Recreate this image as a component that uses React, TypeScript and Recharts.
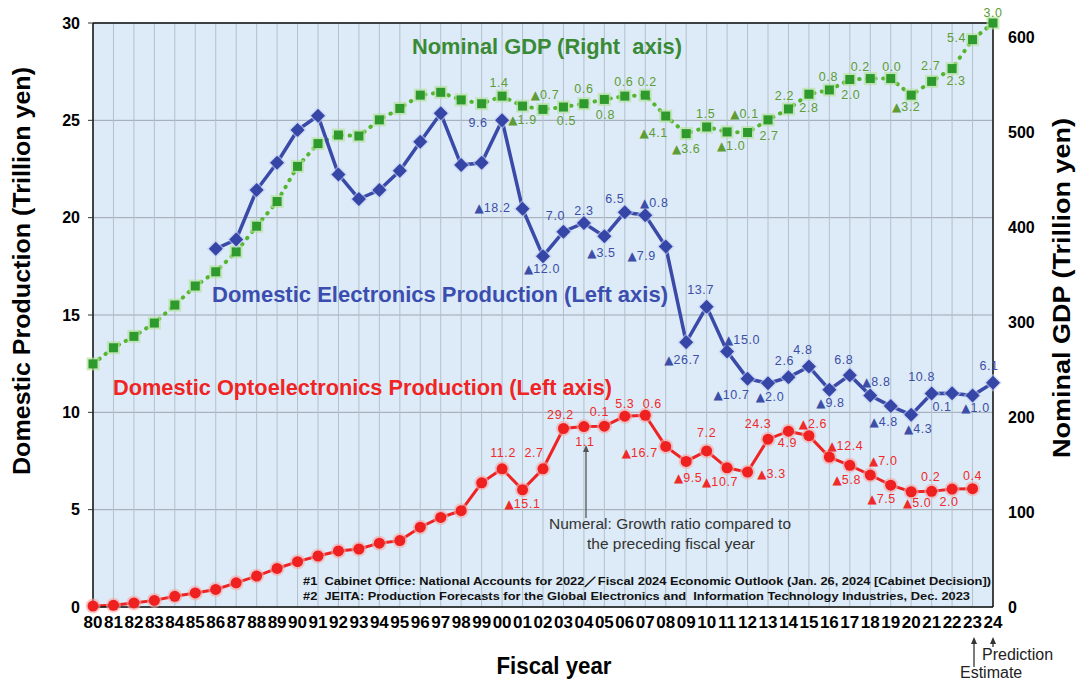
import { LineChart, Line, XAxis, YAxis, CartesianGrid, ReferenceLine } from "recharts";

const FONT = "'Liberation Sans', Arial, sans-serif";

const years = [
  "80", "81", "82", "83", "84", "85", "86", "87", "88", "89",
  "90", "91", "92", "93", "94", "95", "96", "97", "98", "99",
  "00", "01", "02", "03", "04", "05", "06", "07", "08", "09",
  "10", "11", "12", "13", "14", "15", "16", "17", "18", "19",
  "20", "21", "22", "23", "24",
];

// nominal GDP, trillion yen (right axis)
const gdpValues = [
  256, 273, 285, 299, 318, 338, 353, 374, 401, 427,
  464, 488, 497, 496, 513, 525, 539, 542, 534, 530,
  538, 527.5, 524, 526.5, 530, 534.5, 538, 539, 517, 498.5,
  505.5, 500.3, 499.7, 513, 524.5, 540, 544.5, 555.5, 556.5, 556.5,
  539, 553.5, 567, 597.5, 615,
];

// domestic electronics production, trillion yen (left axis)
const elecValues = [
  null, null, null, null, null, null, 18.4, 18.88, 21.42, 22.82,
  24.5, 25.23, 22.22, 20.96, 21.42, 22.41, 23.9, 25.36, 22.7, 22.82,
  25.01, 20.46, 18.02, 19.28, 19.73, 19.04, 20.28, 20.12, 18.52, 13.6,
  15.43, 13.13, 11.73, 11.49, 11.8, 12.35, 11.16, 11.91, 10.86, 10.32,
  9.87, 10.97, 10.98, 10.86, 11.52,
];

// domestic optoelectronics production, trillion yen (left axis)
const optoValues = [
  0.05, 0.09, 0.21, 0.34, 0.55, 0.72, 0.9, 1.24, 1.59, 1.98,
  2.33, 2.62, 2.88, 2.98, 3.28, 3.41, 4.1, 4.6, 4.95, 6.38,
  7.1, 6.02, 7.1, 9.17, 9.27, 9.29, 9.8, 9.85, 8.25, 7.48,
  8.02, 7.15, 6.93, 8.62, 9.03, 8.8, 7.7, 7.28, 6.78, 6.26,
  5.92, 5.94, 6.06, 6.08, null,
];

// growth vs. preceding fiscal year (%), from FY2000 on; ▲ = decrease
const gdpGrowth = [
  "1.4", "▲1.9", "▲0.7", "0.5", "0.6", "0.8", "0.6", "0.2", "▲4.1", "▲3.6",
  "1.5", "▲1.0", "▲0.1", "2.7", "2.2", "2.8", "0.8", "2.0", "0.2", "0.0",
  "▲3.2", "2.7", "2.3", "5.4", "3.0",
];
const elecGrowth = [
  "9.6", "▲18.2", "▲12.0", "7.0", "2.3", "▲3.5", "6.5", "▲0.8", "▲7.9", "▲26.7",
  "13.7", "▲15.0", "▲10.7", "▲2.0", "2.6", "4.8", "▲9.8", "6.8", "▲8.8", "▲4.8",
  "▲4.3", "10.8", "0.1", "▲1.0", "6.1",
];
const optoGrowth = [
  "11.2", "▲15.1", "2.7", "29.2", "1.1", "0.1", "5.3", "0.6", "▲16.7", "▲9.5",
  "7.2", "▲10.7", "▲3.3", "24.3", "4.9", "▲2.6", "▲12.4", "▲5.8", "▲7.0", "▲7.5",
  "▲5.0", "0.2", "2.0", "0.4",
];

const leftTicks = [0, 5, 10, 15, 20, 25, 30];
const rightTicks = [0, 100, 200, 300, 400, 500, 600];

// label placement relative to its marker [dx, dy], from FY2000 on
const gdpLabelPos = [
  [-3, -13], [0, 14], [2, -14], [3, 14], [0, -15], [1, 16], [-1, -14], [2, -13], [-12, 17], [0, 15],
  [-1, -13], [4, 14], [-3, -18], [1, 16], [-4, -13], [0, 14], [-1, -13], [1, 15], [-10, -12], [1, -12],
  [-5, 12], [-1, -15], [4, 12], [-16, -2], [0, -10],
];
const elecLabelPos = [
  [-24, 3], [-30, -1], [-1, 13], [-8, -16], [0, -12], [-3, 17], [-10, -13], [9, -12], [-24, 10], [-4, 18],
  [-6, -17], [15, -11], [-16, 16], [2, 14], [-4, -16], [-6, -17], [1, 13], [-6, -15], [6, -14], [-7, 16],
  [7, 14], [-10, -16], [-10, 14], [3, 12], [-4, -17],
];
const optoLabelPos = [
  [1, -16], [0, 14], [-9, -16], [-3, -13], [1, 15], [-5, -14], [0, -12], [7, -11], [-26, 7], [2, 17],
  [0, -18], [-7, 14], [24, 2], [-10, -15], [-1, 12], [4, -12], [16, -11], [-3, 15], [13, -14], [-9, 14],
  [6, 11], [-1, -14], [-3, 13], [0, -13],
];

const GROWTH_START = years.indexOf("00");

const rows = years.map((year, i) => ({
  year,
  gdp: gdpValues[i],
  elec: elecValues[i],
  opto: optoValues[i],
}));

type DotProps = { cx?: number | null; cy?: number | null; index?: number };

function growthLabel(
  cx: number,
  cy: number,
  index: number,
  texts: string[],
  pos: number[][],
  color: string
) {
  const k = index - GROWTH_START;
  if (k < 0 || !texts[k]) return null;
  const [dx, dy] = pos[k];
  const neg = texts[k].startsWith("▲");
  const num = neg ? texts[k].slice(1) : texts[k];
  return (
    <text
      x={cx + dx}
      y={cy + dy}
      textAnchor="middle"
      dominantBaseline="central"
      fontFamily={FONT}
      fontSize={12.5}
      letterSpacing={0.6}
      fill={color}
    >
      {neg && (
        <tspan fontFamily="'DejaVu Sans', sans-serif" fontSize={12} letterSpacing={0}>
          ▲
        </tspan>
      )}
      <tspan>{num}</tspan>
    </text>
  );
}

const valid = (p: DotProps) =>
  p.cx != null && p.cy != null && !Number.isNaN(p.cx) && !Number.isNaN(p.cy);

function gdpDot(p: DotProps) {
  const key = `g-${p.index}`;
  if (!valid(p)) return <g key={key} />;
  const cx = p.cx as number;
  const cy = p.cy as number;
  return (
    <g key={key}>
      <rect x={cx - 6.5} y={cy - 6.5} width={13} height={13} fill="#b4e29a" opacity={0.65} />
      <rect x={cx - 4.5} y={cy - 4.5} width={9} height={9} fill="#2e9a2e" />
      {growthLabel(cx, cy, p.index as number, gdpGrowth, gdpLabelPos, "#5e9c34")}
    </g>
  );
}

function elecDot(p: DotProps) {
  const key = `e-${p.index}`;
  if (!valid(p)) return <g key={key} />;
  const cx = p.cx as number;
  const cy = p.cy as number;
  const d = (r: number) => `M${cx},${cy - r} L${cx + r},${cy} L${cx},${cy + r} L${cx - r},${cy} Z`;
  return (
    <g key={key}>
      <path d={d(9)} fill="#c3ccf0" opacity={0.6} />
      <path d={d(7)} fill="#3546a6" />
      {growthLabel(cx, cy, p.index as number, elecGrowth, elecLabelPos, "#3c4ea8")}
    </g>
  );
}

function optoDot(p: DotProps) {
  const key = `o-${p.index}`;
  if (!valid(p)) return <g key={key} />;
  const cx = p.cx as number;
  const cy = p.cy as number;
  return (
    <g key={key}>
      <circle cx={cx} cy={cy} r={7.5} fill="#f8a6a6" opacity={0.6} />
      <circle cx={cx} cy={cy} r={5.5} fill="#ee2020" />
      {growthLabel(cx, cy, p.index as number, optoGrowth, optoLabelPos, "#f02a2a")}
    </g>
  );
}

function Arrow({ x, y1, y2, color }: { x: number; y1: number; y2: number; color: string }) {
  return (
    <g>
      <line x1={x} y1={y1} x2={x} y2={y2 + 5} stroke={color} strokeWidth={1.3} />
      <path d={`M${x - 3},${y2 + 7} L${x},${y2} L${x + 3},${y2 + 7} Z`} fill={color} />
    </g>
  );
}

function Annotations() {
  return (
    <svg
      width={1077}
      height={682}
      style={{ position: "absolute", left: 0, top: 0, pointerEvents: "none" }}
      fontFamily={FONT}
    >
      <text x={412} y={46} dominantBaseline="central" fontSize={22} fontWeight={700}
        fill="#3a8a35" textLength={270} lengthAdjust="spacingAndGlyphs" style={{ whiteSpace: "pre" }}>
        Nominal GDP (Right  axis)
      </text>
      <text x={212} y={294} dominantBaseline="central" fontSize={22} fontWeight={700}
        fill="#3b4eb0" textLength={456} lengthAdjust="spacingAndGlyphs">
        Domestic Electronics Production (Left axis)
      </text>
      <text x={113} y={387} dominantBaseline="central" fontSize={22} fontWeight={700}
        fill="#f02424" textLength={499} lengthAdjust="spacingAndGlyphs">
        Domestic Optoelectronics Production (Left axis)
      </text>

      <text x={670} y={523} textAnchor="middle" dominantBaseline="central" fontSize={15.5} fill="#333">
        Numeral: Growth ratio compared to
      </text>
      <text x={671} y={543} textAnchor="middle" dominantBaseline="central" fontSize={15.5} fill="#333">
        the preceding fiscal year
      </text>
      <Arrow x={586} y1={518} y2={445} color="#555" />

      <text x={303} y={581} dominantBaseline="central" fontSize={11.5} fontWeight={700} fill="#111"
        textLength={688} lengthAdjust="spacingAndGlyphs" style={{ whiteSpace: "pre" }}>
        #1  Cabinet Office: National Accounts for 2022／Fiscal 2024 Economic Outlook (Jan. 26, 2024 [Cabinet Decision])
      </text>
      <text x={303} y={596} dominantBaseline="central" fontSize={11.5} fontWeight={700} fill="#111"
        textLength={667} lengthAdjust="spacingAndGlyphs" style={{ whiteSpace: "pre" }}>
        #2  JEITA: Production Forecasts for the Global Electronics and  Information Technology Industries, Dec. 2023
      </text>

      <text x={21} y={271} transform="rotate(-90 21 271)" textAnchor="middle" dominantBaseline="central"
        fontSize={24} fontWeight={700} fill="#000" textLength={408} lengthAdjust="spacingAndGlyphs">
        Domestic Production (Trillion yen)
      </text>
      <text x={1061} y={288} transform="rotate(-90 1061 288)" textAnchor="middle" dominantBaseline="central"
        fontSize={24} fontWeight={700} fill="#000" textLength={340} lengthAdjust="spacingAndGlyphs">
        Nominal GDP (Trillion yen)
      </text>
      <text x={554} y={666} textAnchor="middle" dominantBaseline="central" fontSize={23} fontWeight={700}
        fill="#000" textLength={115} lengthAdjust="spacingAndGlyphs">
        Fiscal year
      </text>

      <Arrow x={974} y1={667} y2={637} color="#333" />
      <Arrow x={993} y1={647} y2={637} color="#333" />
      <text x={982} y={654} dominantBaseline="central" fontSize={16} fill="#222">Prediction</text>
      <text x={960} y={672} dominantBaseline="central" fontSize={16} fill="#222">Estimate</text>
    </svg>
  );
}

export default function App() {
  return (
    <div style={{ position: "absolute", left: 0, top: 0, width: 1077, height: 682, background: "#fff" }}>
      <LineChart width={1077} height={682} data={rows} margin={{ top: 23, right: 0, bottom: 0, left: 0 }}>
        <CartesianGrid yAxisId="left" fill="#dcebf7" stroke="#9ea7b0" vertical={false} horizontalValues={leftTicks} />
        <CartesianGrid yAxisId="left" stroke="#b3c0cc" horizontal={false} />
        <XAxis
          dataKey="year"
          interval={0}
          height={75}
          tickLine={false}
          tickSize={0}
          tickMargin={9}
          axisLine={{ stroke: "#111", strokeWidth: 1.5 }}
          tick={{ fill: "#000", fontSize: 17, fontWeight: 700, fontFamily: FONT }}
        />
        <YAxis
          yAxisId="left"
          domain={[0, 30]}
          ticks={leftTicks}
          width={93}
          tickSize={5}
          tickMargin={8}
          tickLine={{ stroke: "#333" }}
          axisLine={{ stroke: "#111", strokeWidth: 1.5 }}
          tick={{ fill: "#000", fontSize: 16, fontWeight: 700, fontFamily: FONT }}
        />
        <YAxis
          yAxisId="right"
          orientation="right"
          domain={[0, 615]}
          ticks={rightTicks}
          width={84}
          tickSize={0}
          tickMargin={15}
          tickLine={false}
          axisLine={{ stroke: "#111", strokeWidth: 1.5 }}
          tick={{ fill: "#000", fontSize: 16, fontWeight: 700, fontFamily: FONT }}
        />
        <ReferenceLine yAxisId="left" y={30} stroke="#111" strokeWidth={1.5} />
        <Line
          yAxisId="right"
          dataKey="gdp"
          type="linear"
          stroke="#55b52e"
          strokeWidth={4}
          strokeDasharray="0.5 7.5"
          strokeLinecap="round"
          dot={gdpDot}
          activeDot={false}
          isAnimationActive={false}
        />
        <Line
          yAxisId="left"
          dataKey="elec"
          type="linear"
          stroke="#3a4aa8"
          strokeWidth={3.5}
          dot={elecDot}
          activeDot={false}
          isAnimationActive={false}
        />
        <Line
          yAxisId="left"
          dataKey="opto"
          type="linear"
          stroke="#ee2424"
          strokeWidth={3}
          dot={optoDot}
          activeDot={false}
          isAnimationActive={false}
        />
      </LineChart>
      <Annotations />
    </div>
  );
}
